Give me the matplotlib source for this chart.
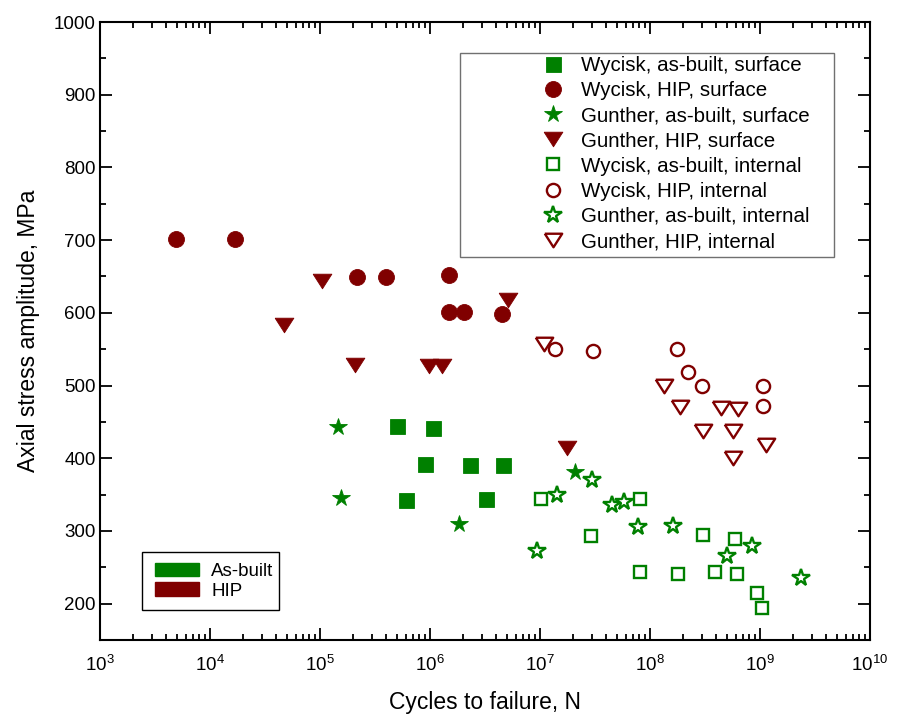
import matplotlib
matplotlib.use("Agg")
import matplotlib.pyplot as plt
from matplotlib.patches import Patch, Rectangle
from matplotlib.ticker import LogLocator, MultipleLocator, NullFormatter

plt.rcParams['font.family'] = ['Liberation Sans', 'DejaVu Sans']
plt.rcParams['mathtext.fontset'] = 'custom'
plt.rcParams['mathtext.rm'] = 'Liberation Sans'
plt.rcParams['mathtext.it'] = 'Liberation Sans:italic'

GREEN = '#008000'
RED = '#800000'

# ---- fatigue data: cycles to failure and stress amplitude (MPa) ----
wycisk_ab_surf_N = [5.05e5, 1.07e6, 9.1e5, 2.3e6, 4.65e6, 6.0e5, 3.2e6]
wycisk_ab_surf_S = [445, 442, 392, 391, 391, 342, 344]

wycisk_hip_surf_N = [4.9e3, 1.7e4, 2.18e5, 4.0e5, 1.48e6, 1.48e6, 2.05e6, 4.54e6]
wycisk_hip_surf_S = [701, 701, 649, 649, 652, 601, 601, 598]

gunther_ab_surf_N = [1.45e5, 1.55e5, 1.83e6, 2.07e7]
gunther_ab_surf_S = [443, 345, 310, 381]

gunther_hip_surf_N = [4.7e4, 1.05e5, 2.1e5, 9.7e5, 1.29e6, 5.1e6, 1.75e7]
gunther_hip_surf_S = [583, 644, 528, 527, 527, 618, 414]

wycisk_ab_int_N = [1.03e7, 8.05e7, 2.88e7, 3.06e8, 5.93e8, 8.05e7, 1.81e8,
                   3.93e8, 6.24e8, 9.3e8, 1.05e9]
wycisk_ab_int_S = [344, 344, 293, 295, 289, 243, 241, 244, 241, 215, 194]

wycisk_hip_int_N = [1.36e7, 3.05e7, 1.77e8, 2.23e8, 2.96e8, 1.07e9, 1.07e9]
wycisk_hip_int_S = [550, 547, 550, 519, 500, 499, 472]

gunther_ab_int_N = [1.43e7, 2.94e7, 9.4e6, 4.54e7, 5.8e7, 7.77e7, 1.63e8,
                    8.53e8, 5.06e8, 2.38e9]
gunther_ab_int_S = [349, 370, 273, 335, 340, 306, 307, 279, 266, 235]

gunther_hip_int_N = [1.08e7, 1.34e8, 1.86e8, 4.4e8, 6.37e8, 3.06e8, 5.73e8,
                     1.13e9, 5.69e8]
gunther_hip_int_S = [557, 499, 471, 469, 468, 437, 437, 418, 400]

legend_labels = [
    'Wycisk, as-built, surface',
    'Wycisk, HIP, surface',
    'Gunther, as-built, surface',
    'Gunther, HIP, surface',
    'Wycisk, as-built, internal',
    'Wycisk, HIP, internal',
    'Gunther, as-built, internal',
    'Gunther, HIP, internal',
]
condition_labels = ['As-built', 'HIP']

x_ticks = [1e3, 1e4, 1e5, 1e6, 1e7, 1e8, 1e9, 1e10]
y_ticks = [200, 300, 400, 500, 600, 700, 800, 900, 1000]

# wide, flat downward triangle
TRI_DOWN = [(-1.0, 0.78), (1.0, 0.78), (0.0, -0.78), (-1.0, 0.78)]

W, H = 898, 715
fig = plt.figure(figsize=(W / 100, H / 100), dpi=100)
ax = fig.add_axes([100 / W, 1 - 640 / H, 770 / W, 618 / H])

filled = dict(linestyle='none', markeredgewidth=0.6)
hollow = dict(linestyle='none', markeredgewidth=1.7, markerfacecolor='white')

styles = [
    (wycisk_ab_surf_N, wycisk_ab_surf_S,
     dict(marker='s', markersize=10.8, color=GREEN, **filled)),
    (wycisk_hip_surf_N, wycisk_hip_surf_S,
     dict(marker='o', markersize=11.5, color=RED, **filled)),
    (gunther_ab_surf_N, gunther_ab_surf_S,
     dict(marker='*', markersize=13, color=GREEN, **filled)),
    (gunther_hip_surf_N, gunther_hip_surf_S,
     dict(marker=TRI_DOWN, markersize=13.5, color=RED, **filled)),
    (wycisk_ab_int_N, wycisk_ab_int_S,
     dict(marker='s', markersize=9.3, color=GREEN, markeredgecolor=GREEN, **hollow)),
    (wycisk_hip_int_N, wycisk_hip_int_S,
     dict(marker='o', markersize=9.5, color=RED, markeredgecolor=RED, **hollow)),
    (gunther_ab_int_N, gunther_ab_int_S,
     dict(marker='*', markersize=13, color=GREEN, markeredgecolor=GREEN, **hollow)),
    (gunther_hip_int_N, gunther_hip_int_S,
     dict(marker=TRI_DOWN, markersize=12.5, color=RED, markeredgecolor=RED, **hollow)),
]

handles = []
for (n, s, st), lab in zip(styles, legend_labels):
    h, = ax.plot(n, s, label=lab, **st)
    handles.append(h)

ax.set_xscale('log')
ax.set_xlim(1e3, 1e10)
ax.set_ylim(150, 1000)
ax.set_xticks(x_ticks)
ax.xaxis.set_minor_locator(LogLocator(base=10, subs=range(2, 10), numticks=20))
ax.xaxis.set_minor_formatter(NullFormatter())
ax.set_yticks(y_ticks)
ax.yaxis.set_minor_locator(MultipleLocator(50))

for sp in ax.spines.values():
    sp.set_linewidth(1.5)
ax.tick_params(which='both', direction='in', top=True, right=True,
               width=1.3, labelsize=13.5)
ax.tick_params(which='major', length=8.5)
ax.tick_params(which='minor', length=4.5)
ax.tick_params(axis='x', which='major', pad=11)
ax.tick_params(axis='y', which='major', pad=3)

ax.set_xlabel('Cycles to failure, N', fontsize=16.5, labelpad=11)
ax.set_ylabel('Axial stress amplitude, MPa', fontsize=16.5, labelpad=10)

# series legend, framed by a plain rectangle
fs1 = 14.75
leg1 = ax.legend(handles=handles, loc='upper left',
                 bbox_to_anchor=(543 / W, 1 - 56 / H),
                 bbox_transform=fig.transFigure, borderaxespad=0,
                 borderpad=0, fontsize=fs1, numpoints=1, handlelength=1.0,
                 handletextpad=0.85, labelspacing=0.30, frameon=False)
ax.add_artist(leg1)
fig.add_artist(Rectangle((460 / W, 1 - 257 / H), 374 / W, 204 / H,
                         transform=fig.transFigure, facecolor='none',
                         edgecolor='#707070', linewidth=1.0))

# condition legend
patches = [Patch(facecolor=GREEN, edgecolor=GREEN),
           Patch(facecolor=RED, edgecolor=RED)]
fs2 = 13.5
leg2 = ax.legend(handles=patches, labels=condition_labels, loc='upper left',
                 bbox_to_anchor=(155 / W, 1 - 563 / H),
                 bbox_transform=fig.transFigure, borderaxespad=0,
                 borderpad=0, fontsize=fs2, handlelength=2.35,
                 handleheight=0.7, handletextpad=0.65, labelspacing=0.12,
                 frameon=False)
fig.add_artist(Rectangle((142 / W, 1 - 610 / H), 137 / W, 58 / H,
                         transform=fig.transFigure, facecolor='none',
                         edgecolor='black', linewidth=1.0))

fig.savefig('out.png', dpi=100)
